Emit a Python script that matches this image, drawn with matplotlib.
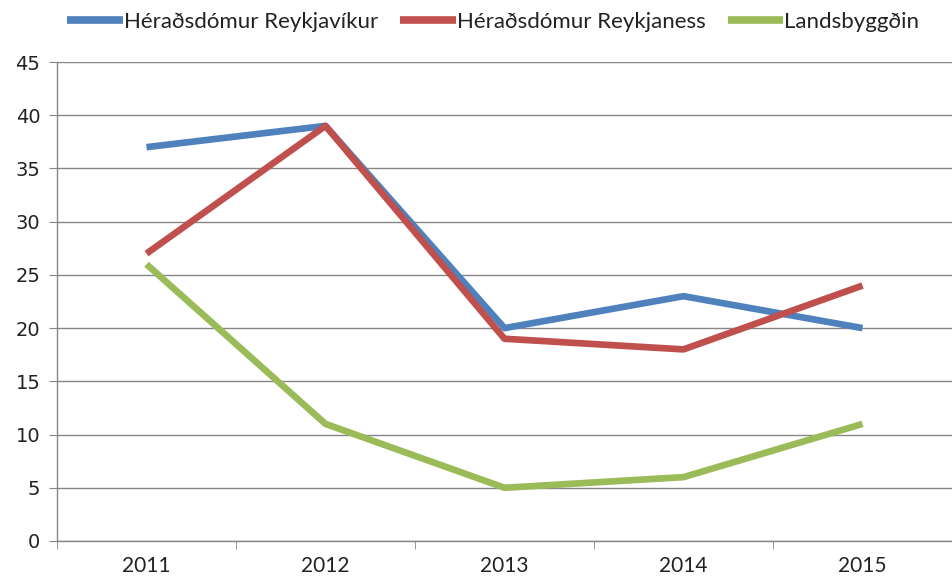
import numpy as np
import matplotlib.pyplot as plt

years = ['2011', '2012', '2013', '2014', '2015']
reykjavik = [37, 39, 20, 23, 20]
reykjanes = [27, 39, 19, 18, 24]
landsbyggd = [26, 11, 5, 6, 11]

labels = ['Héraðsdómur Reykjavíkur', 'Héraðsdómur Reykjaness', 'Landsbyggðin']
colors = ['#4F81BD', '#C0504D', '#9BBB59']

plt.rcParams['font.family'] = ['Lato', 'DejaVu Sans']

fig = plt.figure(figsize=(9.52, 5.78), dpi=100)
ax = fig.add_axes([57 / 952, 1 - 541 / 578, 1 - 57 / 952, (541 - 62) / 578])

x = np.arange(len(years))
for vals, lab, col in zip([reykjavik, reykjanes, landsbyggd], labels, colors):
    ax.plot(x, vals, color=col, lw=4.8, label=lab, solid_capstyle='butt', zorder=3)

# the chart is cropped on the right, so the last category gap is cut short
ax.set_xlim(-0.5, 4.445)
ax.set_ylim(0, 45)
ax.set_yticks(range(0, 46, 5))
ax.set_xticks(x)
ax.set_xticklabels(years, fontsize=15, color='#222222')
ax.set_xticks(np.arange(-0.5, 5, 1), minor=True)
ax.tick_params(axis='x', which='major', length=0, pad=11)
ax.tick_params(axis='x', which='minor', length=6, color='#868686', direction='out')
ax.tick_params(axis='y', length=6, color='#868686', labelsize=14, pad=6, labelcolor='#222222')
for t in ax.get_yticklabels():
    t.set_family('DejaVu Sans')

ax.grid(axis='y', color='#868686', lw=1)
ax.set_axisbelow(True)
for s in ['top', 'right']:
    ax.spines[s].set_visible(False)
for s in ['left', 'bottom']:
    ax.spines[s].set_color('#868686')
    ax.spines[s].set_linewidth(1)

leg = fig.legend(loc='center left', bbox_to_anchor=(67 / 952, 1 - 22 / 578), ncol=3,
                 frameon=False, fontsize=16, handlelength=2.5, handletextpad=0.05,
                 columnspacing=1.0, borderaxespad=0, borderpad=0)
for line in leg.get_lines():
    line.set_linewidth(5.5)
for t in leg.get_texts():
    t.set_color('#222222')

plt.savefig('out.png', dpi=100)
